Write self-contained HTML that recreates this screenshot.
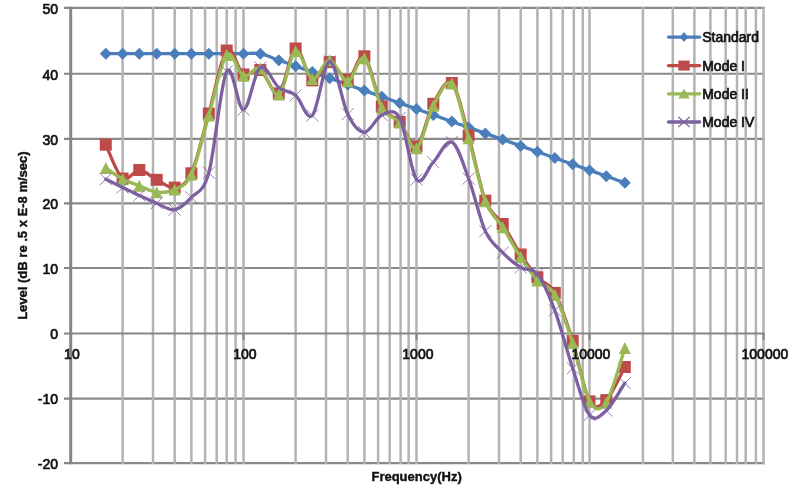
<!DOCTYPE html>
<html><head><meta charset="utf-8"><title>Chart</title>
<style>
html,body{margin:0;padding:0;background:#fff}
body{width:800px;height:497px;overflow:hidden}
svg{display:block;filter:blur(0.6px)}
.t{font-family:"Liberation Sans",sans-serif;font-size:14px;fill:#111;stroke:#111;stroke-width:0.7px}
.b{font-family:"Liberation Sans",sans-serif;font-size:13px;font-weight:bold;fill:#111;stroke:#111;stroke-width:0.4px}
</style></head><body>
<svg width="800" height="497" viewBox="0 0 800 497">
<rect width="800" height="497" fill="#fff"/>
<path d="M70.5,463.15H764.8M70.5,398.60H764.8M70.5,267.95H764.8M70.5,203.35H764.8M70.5,138.85H764.8M70.5,73.75H764.8M70.5,7.85H764.8" stroke="#8a8a8a" stroke-width="2.1" fill="none"/>
<path d="M122.6,6.8V464.2M153.0,6.8V464.2M174.7,6.8V464.2M191.4,6.8V464.2M205.1,6.8V464.2M216.7,6.8V464.2M226.7,6.8V464.2M235.6,6.8V464.2M243.5,6.8V464.2M295.6,6.8V464.2M326.0,6.8V464.2M347.7,6.8V464.2M364.4,6.8V464.2M378.1,6.8V464.2M389.7,6.8V464.2M400.6,6.8V464.2M408.6,6.8V464.2M416.5,6.8V464.2M468.6,6.8V464.2M499.0,6.8V464.2M520.7,6.8V464.2M537.4,6.8V464.2M551.1,6.8V464.2M562.7,6.8V464.2M573.8,6.8V464.2M582.8,6.8V464.2M589.5,6.8V464.2M642.9,6.8V464.2M672.8,6.8V464.2M694.4,6.8V464.2M710.4,6.8V464.2M725.7,6.8V464.2M737.0,6.8V464.2M745.7,6.8V464.2M755.9,6.8V464.2M763.5,6.8V464.2" stroke="#b3b3b3" stroke-width="2.5" fill="none"/>
<path d="M70.7,6.8V464.2" stroke="#868686" stroke-width="3" fill="none"/>
<path d="M64.0,463.15H70.5M64.0,398.60H70.5M64.0,333.55H70.5M64.0,267.95H70.5M64.0,203.35H70.5M64.0,138.85H70.5M64.0,73.75H70.5M64.0,7.85H70.5M70.5,333.55H764.8M243.5,333.6v6.5M416.5,333.6v6.5M589.5,333.6v6.5M763.5,333.6v6.5" stroke="#868686" stroke-width="2.1" fill="none"/>
<path d="M105.8,53.7C108.6,53.7 117.0,53.7 122.6,53.7C128.2,53.7 133.7,53.7 139.3,53.7C145.0,53.7 150.8,53.7 156.7,53.7C162.6,53.7 168.9,53.7 174.7,53.7C180.4,53.7 185.7,53.7 191.4,53.7C197.1,53.7 202.9,53.7 208.8,53.7C214.7,53.7 220.9,53.7 226.7,53.7C232.5,53.7 237.9,53.7 243.5,53.7C249.1,53.7 254.4,52.6 260.3,53.7C266.2,54.8 272.9,58.2 278.8,60.3C284.7,62.3 290.0,64.2 295.6,66.2C301.2,68.2 306.7,70.1 312.3,72.1C318.0,74.1 323.8,76.2 329.7,78.3C335.6,80.4 341.9,82.6 347.7,84.6C353.4,86.7 358.7,88.6 364.4,90.6C370.1,92.6 375.9,94.6 381.8,96.7C387.7,98.8 393.9,101.0 399.7,103.1C405.5,105.1 410.9,107.0 416.5,109.0C422.1,111.0 427.4,112.8 433.3,114.9C439.2,117.0 445.9,119.4 451.8,121.5C457.7,123.6 463.0,125.5 468.6,127.4C474.2,129.4 479.7,131.3 485.3,133.4C491.0,135.4 496.8,137.4 502.7,139.5C508.6,141.6 514.9,143.8 520.7,145.9C526.4,147.9 531.7,149.8 537.4,151.8C543.1,153.8 548.9,155.9 554.8,157.9C560.7,160.0 566.9,162.2 572.7,164.3C578.5,166.3 583.9,168.2 589.5,170.2C595.1,172.2 600.4,174.1 606.3,176.2C612.2,178.2 621.7,181.6 624.8,182.7" stroke="#4a7ebb" stroke-width="3.3" fill="none" stroke-linecap="round" stroke-linejoin="round"/>
<path d="M105.8,47.7l6.0,6.0l-6.0,6.0l-6.0,-6.0z" fill="#4a7ebb"/><path d="M122.6,47.7l6.0,6.0l-6.0,6.0l-6.0,-6.0z" fill="#4a7ebb"/><path d="M139.3,47.7l6.0,6.0l-6.0,6.0l-6.0,-6.0z" fill="#4a7ebb"/><path d="M156.7,47.7l6.0,6.0l-6.0,6.0l-6.0,-6.0z" fill="#4a7ebb"/><path d="M174.7,47.7l6.0,6.0l-6.0,6.0l-6.0,-6.0z" fill="#4a7ebb"/><path d="M191.4,47.7l6.0,6.0l-6.0,6.0l-6.0,-6.0z" fill="#4a7ebb"/><path d="M208.8,47.7l6.0,6.0l-6.0,6.0l-6.0,-6.0z" fill="#4a7ebb"/><path d="M226.7,47.7l6.0,6.0l-6.0,6.0l-6.0,-6.0z" fill="#4a7ebb"/><path d="M243.5,47.7l6.0,6.0l-6.0,6.0l-6.0,-6.0z" fill="#4a7ebb"/><path d="M260.3,47.7l6.0,6.0l-6.0,6.0l-6.0,-6.0z" fill="#4a7ebb"/><path d="M278.8,54.3l6.0,6.0l-6.0,6.0l-6.0,-6.0z" fill="#4a7ebb"/><path d="M295.6,60.2l6.0,6.0l-6.0,6.0l-6.0,-6.0z" fill="#4a7ebb"/><path d="M312.3,66.1l6.0,6.0l-6.0,6.0l-6.0,-6.0z" fill="#4a7ebb"/><path d="M329.7,72.3l6.0,6.0l-6.0,6.0l-6.0,-6.0z" fill="#4a7ebb"/><path d="M347.7,78.6l6.0,6.0l-6.0,6.0l-6.0,-6.0z" fill="#4a7ebb"/><path d="M364.4,84.6l6.0,6.0l-6.0,6.0l-6.0,-6.0z" fill="#4a7ebb"/><path d="M381.8,90.7l6.0,6.0l-6.0,6.0l-6.0,-6.0z" fill="#4a7ebb"/><path d="M399.7,97.1l6.0,6.0l-6.0,6.0l-6.0,-6.0z" fill="#4a7ebb"/><path d="M416.5,103.0l6.0,6.0l-6.0,6.0l-6.0,-6.0z" fill="#4a7ebb"/><path d="M433.3,108.9l6.0,6.0l-6.0,6.0l-6.0,-6.0z" fill="#4a7ebb"/><path d="M451.8,115.5l6.0,6.0l-6.0,6.0l-6.0,-6.0z" fill="#4a7ebb"/><path d="M468.6,121.4l6.0,6.0l-6.0,6.0l-6.0,-6.0z" fill="#4a7ebb"/><path d="M485.3,127.4l6.0,6.0l-6.0,6.0l-6.0,-6.0z" fill="#4a7ebb"/><path d="M502.7,133.5l6.0,6.0l-6.0,6.0l-6.0,-6.0z" fill="#4a7ebb"/><path d="M520.7,139.9l6.0,6.0l-6.0,6.0l-6.0,-6.0z" fill="#4a7ebb"/><path d="M537.4,145.8l6.0,6.0l-6.0,6.0l-6.0,-6.0z" fill="#4a7ebb"/><path d="M554.8,151.9l6.0,6.0l-6.0,6.0l-6.0,-6.0z" fill="#4a7ebb"/><path d="M572.7,158.3l6.0,6.0l-6.0,6.0l-6.0,-6.0z" fill="#4a7ebb"/><path d="M589.5,164.2l6.0,6.0l-6.0,6.0l-6.0,-6.0z" fill="#4a7ebb"/><path d="M606.3,170.2l6.0,6.0l-6.0,6.0l-6.0,-6.0z" fill="#4a7ebb"/><path d="M624.8,176.7l6.0,6.0l-6.0,6.0l-6.0,-6.0z" fill="#4a7ebb"/>
<path d="M105.8,144.7C108.6,150.3 117.0,174.3 122.6,178.5C128.2,182.7 133.7,169.8 139.3,170.0C145.0,170.3 150.8,176.9 156.7,179.8C162.6,182.7 168.9,188.7 174.7,187.6C180.4,186.5 185.7,185.6 191.4,173.3C197.1,160.9 202.9,134.0 208.8,113.5C214.7,93.0 220.9,57.0 226.7,50.5C232.5,44.0 237.9,71.3 243.5,74.5C249.1,77.8 254.4,66.8 260.3,70.0C266.2,73.1 272.9,96.9 278.8,93.4C284.7,89.8 290.0,50.7 295.6,48.5C301.2,46.3 306.7,78.1 312.3,80.4C318.0,82.6 323.8,62.3 329.7,62.1C335.6,62.0 341.9,80.7 347.7,79.7C353.4,78.7 358.7,51.9 364.4,56.3C370.1,60.7 375.9,95.4 381.8,106.4C387.7,117.3 393.9,115.3 399.7,122.0C405.5,128.6 410.9,149.4 416.5,146.3C422.1,143.3 427.4,114.3 433.3,103.8C439.2,93.2 445.9,77.6 451.8,83.0C457.7,88.3 463.0,116.0 468.6,135.6C474.2,155.2 479.7,185.9 485.3,200.6C491.0,215.3 496.8,215.0 502.7,224.0C508.6,233.0 514.9,245.7 520.7,254.5C526.4,263.4 531.7,270.9 537.4,277.3C543.1,283.7 548.9,282.3 554.8,292.9C560.7,303.5 566.9,322.9 572.7,341.0C578.5,359.1 583.9,391.6 589.5,401.4C595.1,411.3 600.4,405.9 606.3,400.1C612.2,394.4 621.7,372.5 624.8,367.0" stroke="#be4b48" stroke-width="3.3" fill="none" stroke-linecap="round" stroke-linejoin="round"/>
<rect x="99.8" y="138.7" width="12.0" height="12.0" fill="#be4b48"/><rect x="116.6" y="172.5" width="12.0" height="12.0" fill="#be4b48"/><rect x="133.3" y="164.0" width="12.0" height="12.0" fill="#be4b48"/><rect x="150.7" y="173.8" width="12.0" height="12.0" fill="#be4b48"/><rect x="168.7" y="181.6" width="12.0" height="12.0" fill="#be4b48"/><rect x="185.4" y="167.3" width="12.0" height="12.0" fill="#be4b48"/><rect x="202.8" y="107.5" width="12.0" height="12.0" fill="#be4b48"/><rect x="220.7" y="44.5" width="12.0" height="12.0" fill="#be4b48"/><rect x="237.5" y="68.5" width="12.0" height="12.0" fill="#be4b48"/><rect x="254.3" y="64.0" width="12.0" height="12.0" fill="#be4b48"/><rect x="272.8" y="87.4" width="12.0" height="12.0" fill="#be4b48"/><rect x="289.6" y="42.5" width="12.0" height="12.0" fill="#be4b48"/><rect x="306.3" y="74.4" width="12.0" height="12.0" fill="#be4b48"/><rect x="323.7" y="56.1" width="12.0" height="12.0" fill="#be4b48"/><rect x="341.7" y="73.7" width="12.0" height="12.0" fill="#be4b48"/><rect x="358.4" y="50.3" width="12.0" height="12.0" fill="#be4b48"/><rect x="375.8" y="100.4" width="12.0" height="12.0" fill="#be4b48"/><rect x="393.7" y="116.0" width="12.0" height="12.0" fill="#be4b48"/><rect x="410.5" y="140.3" width="12.0" height="12.0" fill="#be4b48"/><rect x="427.3" y="97.8" width="12.0" height="12.0" fill="#be4b48"/><rect x="445.8" y="77.0" width="12.0" height="12.0" fill="#be4b48"/><rect x="462.6" y="129.6" width="12.0" height="12.0" fill="#be4b48"/><rect x="479.3" y="194.6" width="12.0" height="12.0" fill="#be4b48"/><rect x="496.7" y="218.0" width="12.0" height="12.0" fill="#be4b48"/><rect x="514.7" y="248.5" width="12.0" height="12.0" fill="#be4b48"/><rect x="531.4" y="271.3" width="12.0" height="12.0" fill="#be4b48"/><rect x="548.8" y="286.9" width="12.0" height="12.0" fill="#be4b48"/><rect x="566.7" y="335.0" width="12.0" height="12.0" fill="#be4b48"/><rect x="583.5" y="395.4" width="12.0" height="12.0" fill="#be4b48"/><rect x="600.3" y="394.1" width="12.0" height="12.0" fill="#be4b48"/><rect x="618.8" y="361.0" width="12.0" height="12.0" fill="#be4b48"/>
<path d="M105.8,168.1C108.6,169.9 117.0,176.2 122.6,179.2C128.2,182.1 133.7,183.5 139.3,185.7C145.0,187.8 150.8,191.5 156.7,192.2C162.6,192.8 168.9,192.5 174.7,189.5C180.4,186.6 185.7,186.9 191.4,174.6C197.1,162.2 202.9,135.4 208.8,115.5C214.7,95.5 220.9,61.6 226.7,55.0C232.5,48.4 237.9,73.5 243.5,75.8C249.1,78.1 254.4,65.5 260.3,68.6C266.2,71.8 272.9,97.6 278.8,94.6C284.7,91.7 290.0,53.7 295.6,51.1C301.2,48.5 306.7,77.5 312.3,79.0C318.0,80.6 323.8,59.8 329.7,60.2C335.6,60.6 341.9,81.7 347.7,81.3C353.4,81.0 358.7,53.9 364.4,58.3C370.1,62.6 375.9,96.9 381.8,107.6C387.7,118.4 393.9,115.8 399.7,122.6C405.5,129.4 410.9,151.1 416.5,148.3C422.1,145.5 427.4,116.5 433.3,105.7C439.2,94.9 445.9,78.2 451.8,83.6C457.7,89.0 463.0,118.6 468.6,138.2C474.2,157.8 479.7,186.4 485.3,201.2C491.0,216.1 496.8,217.9 502.7,227.2C508.6,236.6 514.9,248.3 520.7,257.1C526.4,266.0 531.7,274.3 537.4,280.5C543.1,286.8 548.9,284.5 554.8,294.9C560.7,305.2 566.9,325.2 572.7,342.9C578.5,360.7 583.9,391.5 589.5,401.4C595.1,411.4 600.4,411.3 606.3,402.4C612.2,393.5 621.7,357.2 624.8,348.1" stroke="#98b954" stroke-width="3.3" fill="none" stroke-linecap="round" stroke-linejoin="round"/>
<path d="M105.8,162.1l6.0,12.0l-12.0,0z" fill="#98b954"/><path d="M122.6,173.2l6.0,12.0l-12.0,0z" fill="#98b954"/><path d="M139.3,179.7l6.0,12.0l-12.0,0z" fill="#98b954"/><path d="M156.7,186.2l6.0,12.0l-12.0,0z" fill="#98b954"/><path d="M174.7,183.5l6.0,12.0l-12.0,0z" fill="#98b954"/><path d="M191.4,168.6l6.0,12.0l-12.0,0z" fill="#98b954"/><path d="M208.8,109.5l6.0,12.0l-12.0,0z" fill="#98b954"/><path d="M226.7,49.0l6.0,12.0l-12.0,0z" fill="#98b954"/><path d="M243.5,69.8l6.0,12.0l-12.0,0z" fill="#98b954"/><path d="M260.3,62.6l6.0,12.0l-12.0,0z" fill="#98b954"/><path d="M278.8,88.6l6.0,12.0l-12.0,0z" fill="#98b954"/><path d="M295.6,45.1l6.0,12.0l-12.0,0z" fill="#98b954"/><path d="M312.3,73.0l6.0,12.0l-12.0,0z" fill="#98b954"/><path d="M329.7,54.2l6.0,12.0l-12.0,0z" fill="#98b954"/><path d="M347.7,75.3l6.0,12.0l-12.0,0z" fill="#98b954"/><path d="M364.4,52.3l6.0,12.0l-12.0,0z" fill="#98b954"/><path d="M381.8,101.6l6.0,12.0l-12.0,0z" fill="#98b954"/><path d="M399.7,116.6l6.0,12.0l-12.0,0z" fill="#98b954"/><path d="M416.5,142.3l6.0,12.0l-12.0,0z" fill="#98b954"/><path d="M433.3,99.7l6.0,12.0l-12.0,0z" fill="#98b954"/><path d="M451.8,77.6l6.0,12.0l-12.0,0z" fill="#98b954"/><path d="M468.6,132.2l6.0,12.0l-12.0,0z" fill="#98b954"/><path d="M485.3,195.2l6.0,12.0l-12.0,0z" fill="#98b954"/><path d="M502.7,221.2l6.0,12.0l-12.0,0z" fill="#98b954"/><path d="M520.7,251.1l6.0,12.0l-12.0,0z" fill="#98b954"/><path d="M537.4,274.5l6.0,12.0l-12.0,0z" fill="#98b954"/><path d="M554.8,288.9l6.0,12.0l-12.0,0z" fill="#98b954"/><path d="M572.7,336.9l6.0,12.0l-12.0,0z" fill="#98b954"/><path d="M589.5,395.4l6.0,12.0l-12.0,0z" fill="#98b954"/><path d="M606.3,396.4l6.0,12.0l-12.0,0z" fill="#98b954"/><path d="M624.8,342.1l6.0,12.0l-12.0,0z" fill="#98b954"/>
<path d="M105.8,179.2C108.6,180.6 117.0,184.9 122.6,187.6C128.2,190.3 133.7,192.8 139.3,195.4C145.0,198.0 150.8,200.8 156.7,203.2C162.6,205.6 168.9,210.7 174.7,209.7C180.4,208.7 185.7,203.5 191.4,197.3C197.1,191.2 202.9,193.7 208.8,172.7C214.7,151.6 220.9,81.8 226.7,71.3C232.5,60.7 237.9,110.3 243.5,109.6C249.1,109.0 254.4,71.0 260.3,67.4C266.2,63.7 272.9,82.8 278.8,87.5C284.7,92.2 290.0,90.6 295.6,95.3C301.2,100.0 306.7,121.1 312.3,115.5C318.0,109.8 323.8,61.7 329.7,61.5C335.6,61.3 341.9,102.3 347.7,114.1C353.4,126.0 358.7,132.2 364.4,132.3C370.1,132.5 375.9,117.5 381.8,115.1C387.7,112.7 393.9,107.3 399.7,118.0C405.5,128.8 410.9,172.1 416.5,179.5C422.1,186.8 427.4,168.5 433.3,162.2C439.2,156.0 445.9,139.4 451.8,142.1C457.7,144.8 463.0,163.7 468.6,178.5C474.2,193.3 479.7,218.8 485.3,231.1C491.0,243.5 496.8,246.5 502.7,252.6C508.6,258.7 514.9,264.0 520.7,267.5C526.4,271.1 531.7,266.9 537.4,274.0C543.1,281.2 548.9,294.7 554.8,310.4C560.7,326.2 566.9,350.9 572.7,368.3C578.5,385.7 583.9,408.1 589.5,415.1C595.1,422.1 600.4,415.9 606.3,410.5C612.2,405.2 621.7,387.8 624.8,383.2" stroke="#7d60a0" stroke-width="3.3" fill="none" stroke-linecap="round" stroke-linejoin="round"/>
<path d="M99.8,173.2l12.0,12.0M99.8,185.2l12.0,-12.0" stroke="#7d60a0" stroke-width="1" stroke-opacity="0.8" fill="none"/><path d="M116.6,181.6l12.0,12.0M116.6,193.6l12.0,-12.0" stroke="#7d60a0" stroke-width="1" stroke-opacity="0.8" fill="none"/><path d="M133.3,189.4l12.0,12.0M133.3,201.4l12.0,-12.0" stroke="#7d60a0" stroke-width="1" stroke-opacity="0.8" fill="none"/><path d="M150.7,197.2l12.0,12.0M150.7,209.2l12.0,-12.0" stroke="#7d60a0" stroke-width="1" stroke-opacity="0.8" fill="none"/><path d="M168.7,203.7l12.0,12.0M168.7,215.7l12.0,-12.0" stroke="#7d60a0" stroke-width="1" stroke-opacity="0.8" fill="none"/><path d="M185.4,191.3l12.0,12.0M185.4,203.3l12.0,-12.0" stroke="#7d60a0" stroke-width="1" stroke-opacity="0.8" fill="none"/><path d="M202.8,166.7l12.0,12.0M202.8,178.7l12.0,-12.0" stroke="#7d60a0" stroke-width="1" stroke-opacity="0.8" fill="none"/><path d="M220.7,65.3l12.0,12.0M220.7,77.3l12.0,-12.0" stroke="#7d60a0" stroke-width="1" stroke-opacity="0.8" fill="none"/><path d="M237.5,103.6l12.0,12.0M237.5,115.6l12.0,-12.0" stroke="#7d60a0" stroke-width="1" stroke-opacity="0.8" fill="none"/><path d="M254.3,61.4l12.0,12.0M254.3,73.4l12.0,-12.0" stroke="#7d60a0" stroke-width="1" stroke-opacity="0.8" fill="none"/><path d="M272.8,81.5l12.0,12.0M272.8,93.5l12.0,-12.0" stroke="#7d60a0" stroke-width="1" stroke-opacity="0.8" fill="none"/><path d="M289.6,89.3l12.0,12.0M289.6,101.3l12.0,-12.0" stroke="#7d60a0" stroke-width="1" stroke-opacity="0.8" fill="none"/><path d="M306.3,109.5l12.0,12.0M306.3,121.5l12.0,-12.0" stroke="#7d60a0" stroke-width="1" stroke-opacity="0.8" fill="none"/><path d="M323.7,55.5l12.0,12.0M323.7,67.5l12.0,-12.0" stroke="#7d60a0" stroke-width="1" stroke-opacity="0.8" fill="none"/><path d="M341.7,108.1l12.0,12.0M341.7,120.1l12.0,-12.0" stroke="#7d60a0" stroke-width="1" stroke-opacity="0.8" fill="none"/><path d="M358.4,126.3l12.0,12.0M358.4,138.3l12.0,-12.0" stroke="#7d60a0" stroke-width="1" stroke-opacity="0.8" fill="none"/><path d="M375.8,109.1l12.0,12.0M375.8,121.1l12.0,-12.0" stroke="#7d60a0" stroke-width="1" stroke-opacity="0.8" fill="none"/><path d="M393.7,112.0l12.0,12.0M393.7,124.0l12.0,-12.0" stroke="#7d60a0" stroke-width="1" stroke-opacity="0.8" fill="none"/><path d="M410.5,173.5l12.0,12.0M410.5,185.5l12.0,-12.0" stroke="#7d60a0" stroke-width="1" stroke-opacity="0.8" fill="none"/><path d="M427.3,156.2l12.0,12.0M427.3,168.2l12.0,-12.0" stroke="#7d60a0" stroke-width="1" stroke-opacity="0.8" fill="none"/><path d="M445.8,136.1l12.0,12.0M445.8,148.1l12.0,-12.0" stroke="#7d60a0" stroke-width="1" stroke-opacity="0.8" fill="none"/><path d="M462.6,172.5l12.0,12.0M462.6,184.5l12.0,-12.0" stroke="#7d60a0" stroke-width="1" stroke-opacity="0.8" fill="none"/><path d="M479.3,225.1l12.0,12.0M479.3,237.1l12.0,-12.0" stroke="#7d60a0" stroke-width="1" stroke-opacity="0.8" fill="none"/><path d="M496.7,246.6l12.0,12.0M496.7,258.6l12.0,-12.0" stroke="#7d60a0" stroke-width="1" stroke-opacity="0.8" fill="none"/><path d="M514.7,261.5l12.0,12.0M514.7,273.5l12.0,-12.0" stroke="#7d60a0" stroke-width="1" stroke-opacity="0.8" fill="none"/><path d="M531.4,268.0l12.0,12.0M531.4,280.0l12.0,-12.0" stroke="#7d60a0" stroke-width="1" stroke-opacity="0.8" fill="none"/><path d="M548.8,304.4l12.0,12.0M548.8,316.4l12.0,-12.0" stroke="#7d60a0" stroke-width="1" stroke-opacity="0.8" fill="none"/><path d="M566.7,362.3l12.0,12.0M566.7,374.3l12.0,-12.0" stroke="#7d60a0" stroke-width="1" stroke-opacity="0.8" fill="none"/><path d="M583.5,409.1l12.0,12.0M583.5,421.1l12.0,-12.0" stroke="#7d60a0" stroke-width="1" stroke-opacity="0.8" fill="none"/><path d="M600.3,404.5l12.0,12.0M600.3,416.5l12.0,-12.0" stroke="#7d60a0" stroke-width="1" stroke-opacity="0.8" fill="none"/><path d="M618.8,377.2l12.0,12.0M618.8,389.2l12.0,-12.0" stroke="#7d60a0" stroke-width="1" stroke-opacity="0.8" fill="none"/>
<path d="M668.5,37.1H699.7" stroke="#4a7ebb" stroke-width="3.3" stroke-linecap="round"/>
<path d="M684.0,32.1l4.2,5l-4.2,5l-4.2,-5z" fill="#4a7ebb"/>
<text x="702.2" y="42.3" class="t">Standard</text>
<path d="M668.5,65.6H699.7" stroke="#be4b48" stroke-width="3.3" stroke-linecap="round"/>
<rect x="678.3" y="60.6" width="11.4" height="10" fill="#be4b48"/>
<text x="702.2" y="70.8" class="t">Mode I</text>
<path d="M668.5,93.8H699.7" stroke="#98b954" stroke-width="3.3" stroke-linecap="round"/>
<path d="M684.0,88.8l5.6,9.8h-11.2z" fill="#98b954"/>
<text x="702.2" y="99.0" class="t">Mode II</text>
<path d="M668.5,122.0H699.7" stroke="#7d60a0" stroke-width="3.3" stroke-linecap="round"/>
<path d="M678.3,117.0l11.4,10M678.3,127.0l11.4,-10" stroke="#7d60a0" stroke-width="1.1" fill="none"/>
<text x="702.2" y="127.2" class="t">Mode IV</text>
<text x="58" y="468.9" text-anchor="end" class="t">-20</text>
<text x="58" y="404.4" text-anchor="end" class="t">-10</text>
<text x="58" y="339.4" text-anchor="end" class="t">0</text>
<text x="58" y="273.8" text-anchor="end" class="t">10</text>
<text x="58" y="209.2" text-anchor="end" class="t">20</text>
<text x="58" y="144.7" text-anchor="end" class="t">30</text>
<text x="58" y="79.5" text-anchor="end" class="t">40</text>
<text x="58" y="13.6" text-anchor="end" class="t">50</text>
<text x="71.9" y="359.3" text-anchor="middle" class="t">10</text>
<text x="244.9" y="359.3" text-anchor="middle" class="t">100</text>
<text x="417.9" y="359.3" text-anchor="middle" class="t">1000</text>
<text x="590.9" y="359.3" text-anchor="middle" class="t">10000</text>
<text x="764.9" y="359.3" text-anchor="middle" class="t">100000</text>
<text x="416.6" y="481" text-anchor="middle" class="b">Frequency(Hz)</text>
<text transform="translate(26.7,235.6) rotate(-90)" text-anchor="middle" class="b" textLength="168.5" lengthAdjust="spacingAndGlyphs">Level (dB re .5 x E-8 m/sec)</text>
</svg>
</body></html>
